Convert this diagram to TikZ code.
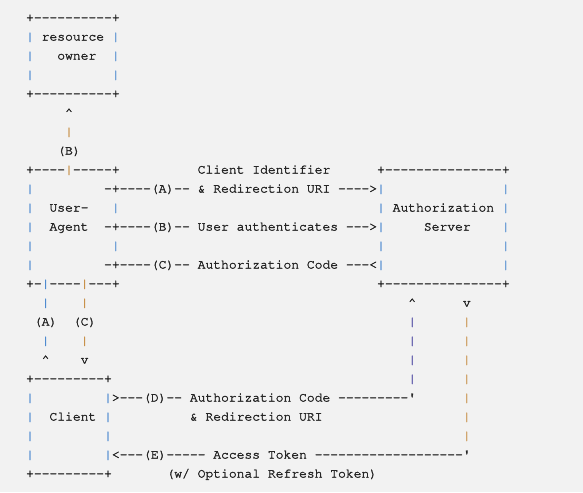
\documentclass[tikz,border=0pt]{standalone}
\usepackage[T1]{fontenc}
\usepackage{textcomp}
\definecolor{bggray}{HTML}{F2F2F2}
\definecolor{ink}{HTML}{262626}
\definecolor{barblue}{HTML}{4F8BD0}
\definecolor{barorange}{HTML}{C8914A}
\definecolor{barpurple}{HTML}{4A44A0}
\newcommand{\bb}{\textcolor{barblue}{|}}
\newcommand{\bo}{\textcolor{barorange}{|}}
\newcommand{\bp}{\textcolor{barpurple}{|}}
\newcommand{\dashes}[1]{\foreach \i in {1,...,#1}{-\kern0pt}}

\begin{document}
\begin{tikzpicture}[x=7.8pt, y=-19pt]
    \tikzstyle{every node} = [anchor=base west, inner sep=0pt, outer sep=0pt, text=ink, font=\special{pdf:literal 2 Tr 0.3 w}\fontfamily{pcr}\fontsize{13}{19}\selectfont]
    \fill[bggray] (0,0) rectangle (74.744,25.895);
    \begin{scope}[shift={(3.346,0.132)}]
        % resource owner
        \node(ownertop) at (0,1) {+\dashes{10}+};
        \foreach \r in {2,3,4} {
            \node(ownerl\r) at (0,\r) {\bb};
            \node(ownerr\r) at (11,\r) {\bb};
        }
        \node(owner1) at (2,2) {resource};
        \node(owner2) at (4,3) {owner};
        \node(ownerbot) at (0,5) {+\dashes{10}+};
        \node(upb) at (5,6) {\textasciicircum};
        \node(barb) at (5,7) {\bo};
        \node(labb) at (4,8) {(B)};

        % user-agent
        \node(agenttop) at (0,9) {+\dashes{4}\bo\dashes{5}+};
        \foreach \r in {10,...,14} \node(agentl\r) at (0,\r) {\bb};
        \foreach \r in {11,13} \node(agentr\r) at (11,\r) {\bb};
        \node(agent1) at (3,11) {User-};
        \node(agent2) at (3,12) {Agent};
        \node(agentbot) at (0,15) {+-\bb\dashes{4}\bo\dashes{3}+};

        % flows A, B, C
        \node(idtext) at (22,9) {Client Identifier};
        \node(flowa) at (10,10) {-+\dashes{4}(A)\dashes{2} \& Redirection URI \dashes{4}>};
        \node(flowb) at (10,12) {-+\dashes{4}(B)\dashes{2} User authenticates \dashes{3}>};
        \node(flowc) at (10,14) {-+\dashes{4}(C)\dashes{2} Authorization Code \dashes{3}<};

        % authorization server
        \node(servertop) at (45,9) {+\dashes{15}+};
        \foreach \r in {10,...,14} {
            \node(serverl\r) at (45,\r) {\bb};
            \node(serverr\r) at (61,\r) {\bb};
        }
        \node(server1) at (47,11) {Authorization};
        \node(server2) at (51,12) {Server};
        \node(serverbot) at (45,15) {+\dashes{15}+};

        % between user-agent and client
        \foreach \r in {16,18} {
            \node(bara\r) at (2,\r) {\bb};
            \node(barc\r) at (7,\r) {\bo};
        }
        \node(laba) at (1,17) {(A)};
        \node(labc) at (6,17) {(C)};
        \node(upa) at (2,19) {\textasciicircum};
        \node(downc) at (7,19) {v};

        % return lines D and E
        \node(upd) at (49,16) {\textasciicircum};
        \node(downe) at (56,16) {v};
        \foreach \r in {17,...,20} \node(bard\r) at (49,\r) {\bp};
        \foreach \r in {17,...,23} \node(bare\r) at (56,\r) {\bo};

        % client
        \node(clienttop) at (0,20) {+\dashes{9}+};
        \foreach \r in {21,...,24} {
            \node(clientl\r) at (0,\r) {\bb};
            \node(clientr\r) at (10,\r) {\bb};
        }
        \node(client) at (3,22) {Client};
        \node(clientbot) at (0,25) {+\dashes{9}+};
        \node(flowd) at (11,21) {>\dashes{3}(D)\dashes{2} Authorization Code \dashes{9}\textquotesingle};
        \node(flowd2) at (21,22) {\& Redirection URI};
        \node(flowe) at (11,24) {<\dashes{3}(E)\dashes{5} Access Token \dashes{19}\textquotesingle};
        \node(refresh) at (18,25) {(w/ Optional Refresh Token)};
    \end{scope}
\end{tikzpicture}
\end{document}
